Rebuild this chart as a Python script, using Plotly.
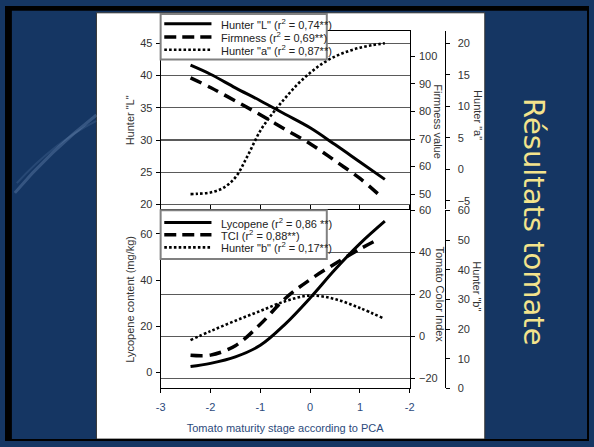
import plotly.graph_objects as go

W, H = 594, 447

# ---------------- data ----------------
x_L = [-2.4, -2.0, -1.5, -1.0, -0.5, 0.0, 0.5, 1.0, 1.5]
hunter_L = [41.6, 40.2, 38.1, 36.1, 34.0, 31.9, 29.3, 26.6, 23.9]

x_firm = [-2.4, -2.0, -1.5, -1.0, -0.5, 0.0, 0.5, 1.0, 1.4]
firmness = [92.2, 88.7, 83.8, 78.8, 73.5, 68.3, 62.1, 55.7, 49.5]

x_a = [-2.4, -2.25, -2.0, -1.75, -1.5, -1.25, -1.0, -0.75, -0.5, -0.25,
       0.0, 0.25, 0.5, 0.75, 1.0, 1.25, 1.5]
hunter_a = [-3.95, -3.9, -3.7, -3.0, -1.3, 2.2, 6.1, 8.9, 11.3, 13.5,
            15.3, 16.8, 17.9, 18.7, 19.3, 19.7, 20.0]

x_lyc = [-2.4, -2.0, -1.5, -1.0, -0.5, 0.0, 0.5, 1.0, 1.5]
lycopene = [2.6, 4.0, 6.8, 11.8, 21.0, 32.3, 44.6, 55.8, 65.5]

x_tci = [-2.4, -2.0, -1.5, -1.0, -0.5, 0.0, 0.5, 1.0, 1.4]
tci = [-9.1, -9.0, -4.5, 5.7, 18.0, 27.0, 34.6, 41.6, 46.6]

x_b = [-2.4, -2.0, -1.5, -1.0, -0.5, 0.0, 0.5, 1.0, 1.45]
hunter_b = [16.3, 19.3, 22.8, 26.1, 29.4, 31.3, 30.1, 27.1, 23.8]

x_ticks = [-3, -2, -1, 0, 1, 2]
x_ticktext = ["-3", "-2", "-1", "0", "1", "-2"]
L_ticks = [20, 25, 30, 35, 40, 45]
firm_ticks = [50, 60, 70, 80, 90, 100]
a_ticks = [-5, 0, 5, 10, 15, 20]
lyc_ticks = [0, 20, 40, 60]
tci_ticks = [-20, 0, 20, 40, 60]
b_ticks = [0, 10, 20, 30, 40, 50, 60]

top_legend = ['Hunter "L" (r<sup>2</sup> = 0,74**)',
              'Firmness (r<sup>2</sup> = 0,69**)',
              'Hunter "a" (r<sup>2</sup> = 0,87**)']
bot_legend = ['Lycopene (r<sup>2</sup> = 0,86 **)',
              'TCI (r<sup>2</sup> = 0,88**)',
              'Hunter "b" (r<sup>2</sup> = 0,17**)']

# ---------------- styling ----------------
FONT = "Liberation Sans, Arial, sans-serif"
NAVY = "#153663"
XBLUE = "#2c4a7c"
SOLID = dict(color="black", width=3, shape="spline")
DASH = dict(color="black", width=3.5, dash="12px,7px", shape="spline")
DOT = dict(color="black", width=2.6, dash="2.6px,2.2px", shape="spline")


def px(x):
    return x / W


def py(y):
    return 1 - y / H


XD = [px(158.3), px(411.7)]
TOP = [py(209), py(26)]
BOT = [py(393), py(210)]
OUTER = px(448)

fig = go.Figure()
fig.add_trace(go.Scatter(x=x_L, y=hunter_L, xaxis="x", yaxis="y", mode="lines",
                         line=SOLID, showlegend=False, hoverinfo="skip"))
fig.add_trace(go.Scatter(x=x_firm, y=firmness, xaxis="x", yaxis="y2", mode="lines",
                         line=DASH, showlegend=False, hoverinfo="skip"))
fig.add_trace(go.Scatter(x=x_a, y=hunter_a, xaxis="x", yaxis="y3", mode="lines",
                         line=DOT, showlegend=False, hoverinfo="skip"))
fig.add_trace(go.Scatter(x=x_lyc, y=lycopene, xaxis="x2", yaxis="y4", mode="lines",
                         line=SOLID, showlegend=False, hoverinfo="skip"))
fig.add_trace(go.Scatter(x=x_tci, y=tci, xaxis="x2", yaxis="y5", mode="lines",
                         line=DASH, showlegend=False, hoverinfo="skip"))
fig.add_trace(go.Scatter(x=x_b, y=hunter_b, xaxis="x2", yaxis="y6", mode="lines",
                         line=DOT, showlegend=False, hoverinfo="skip"))

tickfont = dict(family=FONT, size=11, color="#333333")
titlefont = dict(family=FONT, size=11, color="#333333")
common = dict(showline=True, linecolor="black", linewidth=1, ticks="outside",
              ticklen=4, tickcolor="black", tickwidth=1, tickfont=tickfont,
              zeroline=False, fixedrange=True)
GRID = dict(showgrid=True, gridcolor="#5a5a5a", gridwidth=1.2)

fig.update_layout(
    width=W, height=H, autosize=False,
    margin=dict(l=0, r=0, t=0, b=0),
    paper_bgcolor=NAVY, plot_bgcolor="rgba(0,0,0,0)",
    font=dict(family=FONT),
    showlegend=False,
    xaxis=dict(domain=XD, anchor="y", range=[-3, 2], showticklabels=False,
               showgrid=False, showline=True, mirror=True, linecolor="black",
               ticks="", zeroline=False, fixedrange=True),
    yaxis=dict(domain=TOP, anchor="x", range=[19.25, 46.86], tickvals=L_ticks,
               title=dict(text='Hunter "L"', font=titlefont, standoff=3),
               ticklabelstandoff=1, **GRID, **common),
    yaxis2=dict(overlaying="y", side="right", anchor="x", range=[44.47, 109.07],
                tickvals=firm_ticks, showgrid=False, ticklabelstandoff=2, **common),
    yaxis3=dict(overlaying="y", side="right", anchor="free", position=OUTER,
                range=[-6.38, 21.9], tickvals=a_ticks, showgrid=False,
                ticklabelstandoff=5, **common),
    xaxis2=dict(domain=XD, anchor="y4", range=[-3, 2], tickvals=x_ticks,
                ticktext=x_ticktext, showgrid=False, mirror="ticks",
                ticklabelstandoff=4,
                title=dict(text="Tomato maturity stage according to PCA",
                           font=dict(family=FONT, size=11, color=XBLUE), standoff=12),
                **{**common, "tickfont": dict(family=FONT, size=11, color=XBLUE)}),
    yaxis4=dict(domain=BOT, anchor="x2", range=[-6.86, 70.2], tickvals=lyc_ticks,
                showgrid=False, ticklabelstandoff=1,
                title=dict(text="Lycopene content (mg/kg)", font=titlefont, standoff=3),
                **common),
    yaxis5=dict(overlaying="y4", side="right", anchor="x2", range=[-24.9, 60],
                tickvals=tci_ticks, ticklabelstandoff=2, **GRID, **common),
    yaxis6=dict(overlaying="y4", side="right", anchor="free", position=OUTER,
                range=[0, 60], tickvals=b_ticks, showgrid=False,
                ticklabelstandoff=5, **common),
)

shapes = []
# slide frame
shapes.append(dict(type="rect", xref="paper", yref="paper", layer="below",
                   x0=px(93), x1=px(488), y0=py(445), y1=py(7),
                   fillcolor="white", line=dict(color="#333333", width=1)))
shapes.append(dict(type="path", xref="paper", yref="paper", layer="below",
                   path=f"M {px(10)},{py(192)} Q {px(45)},{py(150)} {px(93)},{py(112)}",
                   line=dict(color="rgba(150,180,220,0.25)", width=3)))
shapes.append(dict(type="path", xref="paper", yref="paper", layer="below",
                   path=f"M {px(12)},{py(182)} Q {px(50)},{py(140)} {px(93)},{py(118)}",
                   line=dict(color="rgba(150,180,220,0.15)", width=2)))
for (x0, x1, y0, y1) in [(0, 594, 0, 5), (0, 7, 0, 447), (0, 594, 445, 447), (592, 594, 0, 447)]:
    shapes.append(dict(type="rect", xref="paper", yref="paper", layer="below",
                       x0=px(x0), x1=px(x1), y0=py(y1), y1=py(y0),
                       fillcolor="black", line=dict(width=0)))

annotations = []


def legend_box(top, bottom, rows, labels):
    shapes.append(dict(type="rect", xref="paper", yref="paper", layer="above",
                       x0=px(158.3), x1=px(327.3), y0=py(bottom), y1=py(top),
                       fillcolor="white", line=dict(color="#808080", width=2)))
    styles = [dict(color="black", width=3),
              dict(color="black", width=3.5, dash="12px,6px"),
              dict(color="black", width=2.6, dash="2.6px,2.2px")]
    for yy, st, lab in zip(rows, styles, labels):
        shapes.append(dict(type="line", xref="paper", yref="paper", layer="above",
                           x0=px(162), x1=px(210), y0=py(yy), y1=py(yy), line=st))
        annotations.append(dict(xref="paper", yref="paper", x=px(218), y=py(yy),
                                xanchor="left", yanchor="middle", showarrow=False,
                                text=lab, font=dict(family=FONT, size=11, color="#222222")))


legend_box(8.3, 55, [18.3, 31.8, 45], top_legend)
legend_box(210, 260, [222.5, 235, 248], bot_legend)

for text, x, y in [("Firmness value", 441, 119), ('Hunter "a"', 481, 112),
                   ("Tomato Color Index", 442, 296), ('Hunter "b"', 480, 288)]:
    annotations.append(dict(xref="paper", yref="paper", x=px(x), y=py(y),
                            xanchor="center", yanchor="middle", showarrow=False,
                            textangle=90, text=text, font=titlefont))

annotations.append(dict(xref="paper", yref="paper", x=px(538), y=py(222),
                        xanchor="center", yanchor="middle", showarrow=False,
                        textangle=90, text="Résultats tomate",
                        font=dict(family="DejaVu Sans, sans-serif", size=29,
                                  color="#F3E38C")))

fig.update_layout(shapes=shapes, annotations=annotations)

fig.write_html("out.html", config={"displayModeBar": False, "staticPlot": True},
               post_script="document.body.style.margin='0';document.body.style.overflow='hidden';")
